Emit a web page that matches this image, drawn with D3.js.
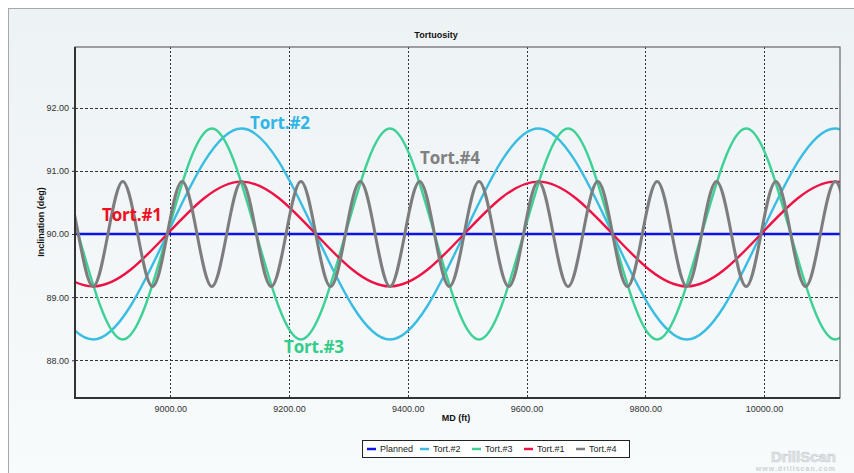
<!DOCTYPE html>
<html>
<head>
<meta charset="utf-8">
<script src="https://cdn.jsdelivr.net/npm/d3@7"></script>
<style>
  body { margin: 0; background: #fff; }
  svg { display: block; font-family: "Liberation Sans", Arial, sans-serif; }
</style>
</head>
<body>
<div id="chart"></div>
<script>
// values (MD in ft, inclination in deg)
const xTicks = [9000, 9200, 9400, 9600, 9800, 10000]
const yTicks = [88, 89, 90, 91, 92]

const plannedMD = [8800, 10200]
const plannedInc = [90, 90]

// Tort.#1 and Tort.#2 : long wave, quarter points every 125 ft
const longMD = [8745, 8870, 8995, 9120, 9245, 9370, 9495, 9620, 9745, 9870, 9995, 10120, 10245]
const tort1Inc = [90, 89.17, 90, 90.83, 90, 89.17, 90, 90.83, 90, 89.17, 90, 90.83, 90]
const tort2Inc = [90, 88.33, 90, 91.67, 90, 88.33, 90, 91.67, 90, 88.33, 90, 91.67, 90]

// Tort.#3 : medium wave, quarter points every 75 ft
const tort3MD = [8695, 8770, 8845, 8920, 8995, 9070, 9145, 9220, 9295, 9370, 9445,
  9520, 9595, 9670, 9745, 9820, 9895, 9970, 10045, 10120, 10195]
const tort3Inc = [90, 91.67, 90, 88.33, 90, 91.67, 90, 88.33, 90, 91.67, 90,
  88.33, 90, 91.67, 90, 88.33, 90, 91.67, 90, 88.33, 90]

// Tort.#4 : short wave, quarter points every 25 ft
const tort4MD = [8795, 8820, 8845, 8870, 8895, 8920, 8945, 8970, 8995, 9020, 9045, 9070,
  9095, 9120, 9145, 9170, 9195, 9220, 9245, 9270, 9295, 9320, 9345, 9370, 9395, 9420,
  9445, 9470, 9495, 9520, 9545, 9570, 9595, 9620, 9645, 9670, 9695, 9720, 9745, 9770,
  9795, 9820, 9845, 9870, 9895, 9920, 9945, 9970, 9995, 10020, 10045, 10070, 10095,
  10120, 10145]
const tort4Inc = [90, 90.83, 90, 89.17, 90, 90.83, 90, 89.17, 90, 90.83, 90, 89.17,
  90, 90.83, 90, 89.17, 90, 90.83, 90, 89.17, 90, 90.83, 90, 89.17, 90, 90.83,
  90, 89.17, 90, 90.83, 90, 89.17, 90, 90.83, 90, 89.17, 90, 90.83, 90, 89.17,
  90, 90.83, 90, 89.17, 90, 90.83, 90, 89.17, 90, 90.83, 90, 89.17, 90,
  90.83, 90]
</script>
<script>
window.onload = () => {
  const width = 854
  const height = 473
  const plot = { left: 75, top: 47, right: 840, bottom: 398 }

  // series order as in the legend
  const series = [
    { name: "Planned", md: plannedMD, inc: plannedInc, color: "#0a14e8", w: 2.6 },
    { name: "Tort.#2", md: longMD, inc: tort2Inc, color: "#3bbde3", w: 2.4 },
    { name: "Tort.#3", md: tort3MD, inc: tort3Inc, color: "#3dd196", w: 2.4 },
    { name: "Tort.#1", md: longMD, inc: tort1Inc, color: "#ee1244", w: 2.4 },
    { name: "Tort.#4", md: tort4MD, inc: tort4Inc, color: "#7d7d7d", w: 3 }
  ]
  const drawOrder = ["Planned", "Tort.#2", "Tort.#3", "Tort.#1", "Tort.#4"]

  const x = d3.scaleLinear().domain([8839.5, 10128]).range([plot.left, plot.right])
  const y = d3.scaleLinear().domain([87.403, 92.961]).range([plot.bottom, plot.top])

  const svg = d3.select("#chart").append("svg")
    .attr("width", width)
    .attr("height", height)

  const defs = svg.append("defs")
  const bg = defs.append("linearGradient").attr("id", "bg")
    .attr("x1", 0).attr("y1", 0).attr("x2", 0).attr("y2", 1)
  bg.append("stop").attr("offset", "0%").attr("stop-color", "#edf2f4")
  bg.append("stop").attr("offset", "100%").attr("stop-color", "#f8fbfc")

  defs.append("clipPath").attr("id", "clip")
    .append("rect")
    .attr("x", plot.left).attr("y", plot.top)
    .attr("width", plot.right - plot.left).attr("height", plot.bottom - plot.top)

  // outer panel
  svg.append("rect")
    .attr("x", 8.5).attr("y", 8.5)
    .attr("width", width).attr("height", height)
    .attr("fill", "url(#bg)")
    .attr("stroke", "#a8a8a8")
    .attr("stroke-width", 1)

  svg.append("text")
    .attr("x", 436).attr("y", 38)
    .attr("text-anchor", "middle")
    .attr("font-size", 9).attr("font-weight", "bold")
    .attr("fill", "#111")
    .text("Tortuosity")

  // grid
  const grid = svg.append("g")
  grid.selectAll("line.h").data(yTicks).enter().append("line")
    .attr("x1", plot.left).attr("x2", plot.right)
    .attr("y1", d => Math.round(y(d)) + 0.5).attr("y2", d => Math.round(y(d)) + 0.5)
    .attr("stroke", "#333").attr("stroke-width", 1)
    .attr("stroke-dasharray", "3,2")
  grid.selectAll("line.v").data(xTicks).enter().append("line")
    .attr("y1", plot.top).attr("y2", plot.bottom)
    .attr("x1", d => Math.round(x(d)) + 0.5).attr("x2", d => Math.round(x(d)) + 0.5)
    .attr("stroke", "#333").attr("stroke-width", 1)
    .attr("stroke-dasharray", "2,2")

  // curves
  const lines = svg.append("g").attr("clip-path", "url(#clip)")
  drawOrder.forEach(n => {
    const s = series.find(d => d.name === n)
    const pts = s.md.map((m, i) => [m, s.inc[i]])
    const line = d3.line()
      .x(d => x(d[0]))
      .y(d => y(d[1]))
      .curve(d3.curveNatural)
    lines.append("path")
      .datum(pts)
      .attr("d", line)
      .attr("fill", "none")
      .attr("stroke", s.color)
      .attr("stroke-width", s.w)
      .attr("stroke-linejoin", "round")
  })

  // frame
  svg.append("rect")
    .attr("x", plot.left).attr("y", plot.top)
    .attr("width", plot.right - plot.left).attr("height", plot.bottom - plot.top)
    .attr("fill", "none").attr("stroke", "#666").attr("stroke-width", 1.2)
  svg.append("path")
    .attr("d", `M${plot.left},${plot.top}V${plot.bottom}H${plot.right}`)
    .attr("fill", "none").attr("stroke", "#333").attr("stroke-width", 2)

  // axes
  const yAxis = d3.axisLeft(y).tickValues(yTicks).tickFormat(d3.format(".2f")).tickSize(3)
  const gy = svg.append("g").attr("transform", `translate(${plot.left},0)`).call(yAxis)
  const xAxis = d3.axisBottom(x).tickValues(xTicks).tickFormat(d3.format(".2f")).tickSize(0).tickPadding(8)
  const gx = svg.append("g").attr("transform", `translate(0,${plot.bottom})`).call(xAxis)
  ;[gx, gy].forEach(g => {
    g.select(".domain").remove()
    g.selectAll("text").attr("font-size", 9).attr("fill", "#333")
      .attr("font-family", "Liberation Sans, Arial, sans-serif")
    g.selectAll("line").attr("stroke", "#333")
  })

  svg.append("text")
    .attr("transform", "translate(44,222) rotate(-90)")
    .attr("text-anchor", "middle")
    .attr("font-size", 9).attr("font-weight", "bold").attr("fill", "#111")
    .text("Inclination (deg)")
  svg.append("text")
    .attr("x", 456).attr("y", 421)
    .attr("text-anchor", "middle")
    .attr("font-size", 9).attr("font-weight", "bold").attr("fill", "#111")
    .text("MD (ft)")

  // big labels on the curves
  const labels = [
    { t: "Tort.#2", x: 250, y: 129, c: "#2fb6e6" },
    { t: "Tort.#4", x: 420, y: 164, c: "#808080" },
    { t: "Tort.#1", x: 102, y: 221, c: "#ee0f22" },
    { t: "Tort.#3", x: 284, y: 353, c: "#33cc88" }
  ]
  svg.append("g").selectAll("text").data(labels).enter().append("text")
    .attr("x", d => d.x).attr("y", d => d.y)
    .attr("font-family", "Open Sans, sans-serif")
    .attr("font-size", 17).attr("font-weight", "bold")
    .attr("textLength", 60)
    .attr("fill", d => d.c)
    .text(d => d.t)

  // legend
  const legend = svg.append("g")
  legend.append("rect")
    .attr("x", 362.5).attr("y", 440.5).attr("width", 267).attr("height", 17)
    .attr("fill", "#fff").attr("stroke", "#222").attr("stroke-width", 1)
  const legX = [367, 420, 472, 524, 576]
  series.forEach((s, i) => {
    legend.append("line")
      .attr("x1", legX[i]).attr("x2", legX[i] + 9)
      .attr("y1", 449).attr("y2", 449)
      .attr("stroke", s.color).attr("stroke-width", 2.5)
    legend.append("text")
      .attr("x", legX[i] + 13).attr("y", 452)
      .attr("font-size", 9).attr("fill", "#222")
      .text(s.name)
  })

  // watermark
  svg.append("text")
    .attr("x", 836).attr("y", 462)
    .attr("text-anchor", "end")
    .attr("font-size", 15).attr("font-weight", "bold")
    .attr("fill", "#e2e6e8").attr("stroke", "#c9cdd0").attr("stroke-width", 0.6)
    .text("DrillScan")
  svg.append("text")
    .attr("x", 836).attr("y", 471)
    .attr("text-anchor", "end")
    .attr("font-size", 7).attr("font-weight", "bold")
    .attr("letter-spacing", 1)
    .attr("fill", "#cdd1d4")
    .text("www.drillscan.com")
}
</script>
</body>
</html>
